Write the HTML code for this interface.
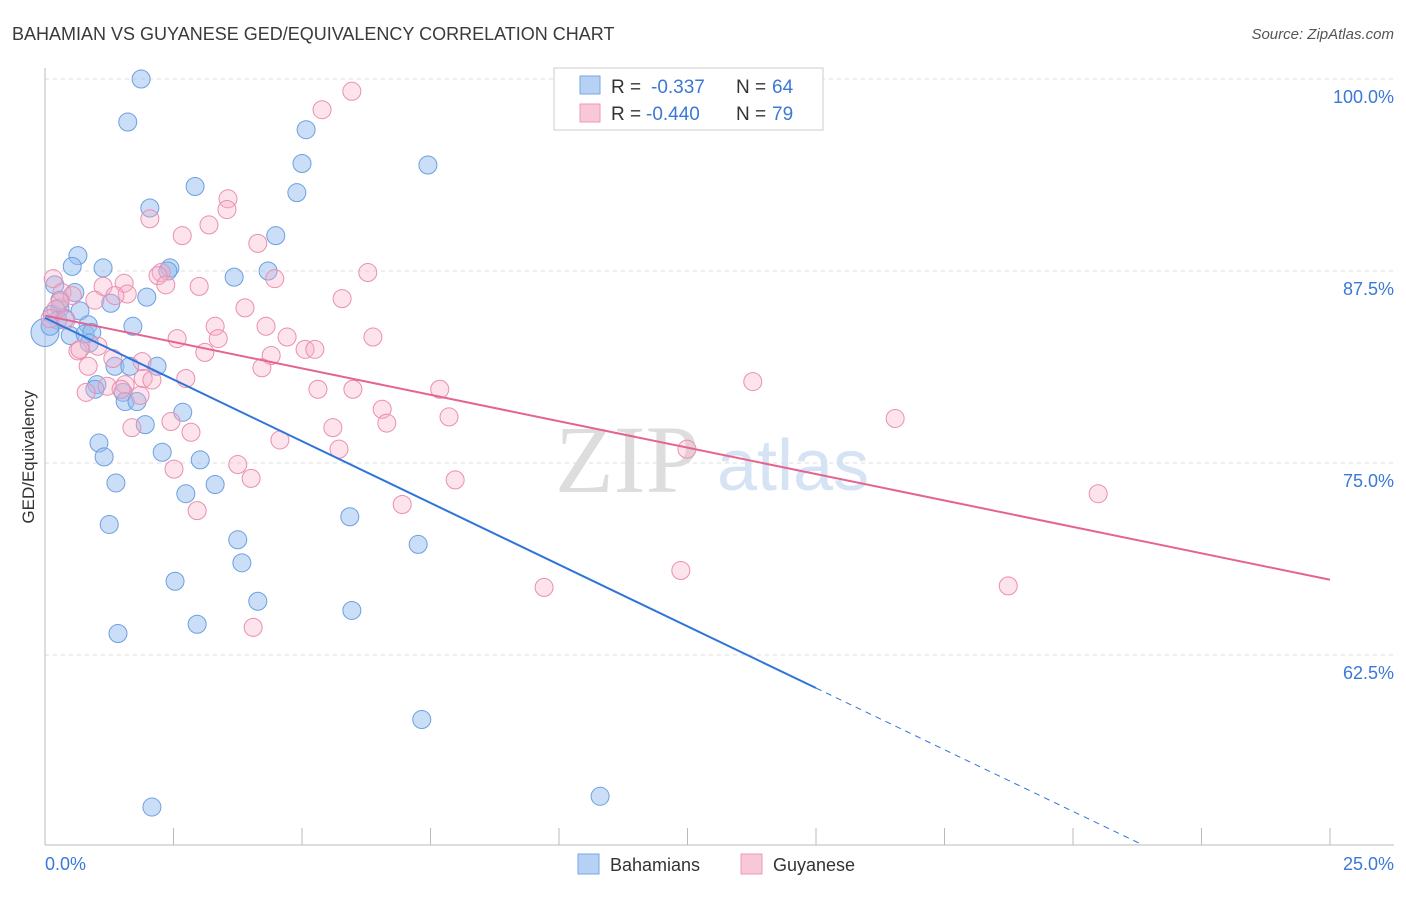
<!DOCTYPE html>
<html><head><meta charset="utf-8"><style>
body{margin:0;background:#fff;font-family:"Liberation Sans",sans-serif;}
</style></head><body>
<svg id="c" width="1406" height="892" xmlns="http://www.w3.org/2000/svg">
<text x="12" y="40" font-size="18" fill="#3a3a3a">BAHAMIAN VS GUYANESE GED/EQUIVALENCY CORRELATION CHART</text>
<text x="1394" y="39" font-size="15" fill="#555" font-style="italic" text-anchor="end">Source: ZipAtlas.com</text>
<text x="555" y="492" font-size="96" fill="#ddd" font-family="Liberation Serif,serif">ZIP</text>
<text x="717" y="490" font-size="72" fill="#d6e3f5">atlas</text>
<text transform="translate(34,457) rotate(-90)" font-size="17" fill="#333" text-anchor="middle">GED/Equivalency</text>
<g id="grid"></g><g id="pts"></g><g id="lines"></g>
<g>
<rect x="554" y="68" width="269" height="62" fill="#fff" stroke="#ccc"/>
<rect x="580" y="76" width="20" height="18" fill="#b7d1f4" stroke="#7aa6e6"/>
<rect x="580" y="104" width="20" height="18" fill="#f9c8d8" stroke="#ec9ab8"/>
<text x="611" y="93" font-size="19" fill="#333">R =</text>
<text x="651" y="93" font-size="19" fill="#3b78d8">-0.337</text>
<text x="736" y="93" font-size="19" fill="#333">N =</text>
<text x="772" y="93" font-size="19" fill="#3b78d8">64</text>
<text x="611" y="120" font-size="19" fill="#333">R =</text>
<text x="646" y="120" font-size="19" fill="#3b78d8">-0.440</text>
<text x="736" y="120" font-size="19" fill="#333">N =</text>
<text x="772" y="120" font-size="19" fill="#3b78d8">79</text>
</g>
<g>
<rect x="578" y="854" width="21" height="20" fill="#b7d1f4" stroke="#7aa6e6"/>
<text x="610" y="871" font-size="18" fill="#333">Bahamians</text>
<rect x="741" y="854" width="21" height="20" fill="#f9c8d8" stroke="#ec9ab8"/>
<text x="773" y="871" font-size="18" fill="#333">Guyanese</text>
</g>
<text x="45" y="870" font-size="18" fill="#3b78d8">0.0%</text>
<text x="1394" y="870" font-size="18" fill="#3b78d8" text-anchor="end">25.0%</text>
</svg>
<script>
const yTicks=[100,87.5,75,62.5];
const yTickLabels=["100.0%","87.5%","75.0%","62.5%"];
const xTicks=[0,2.5,5,7.5,10,12.5,15,17.5,20,22.5,25];
const blueX=[1.87,1.61,5.08,7.45,5.00,2.92,4.90,2.04,4.49,0.64,0.53,1.13,2.43,2.39,3.68,4.34,0.19,0.58,1.98,1.28,0.68,0.29,0.14,0.25,0.84,1.71,0.49,0.78,0.91,0.86,0,1.36,1.65,2.18,1.01,0.97,1.52,1.56,1.79,2.68,1.95,1.05,1.15,2.28,3.02,1.38,3.31,2.74,1.25,5.93,3.75,7.26,3.83,2.53,4.14,5.97,2.96,1.42,7.33,2.08,10.80,0.29,0.39,0.10];
const blueY=[100.0,97.2,96.7,94.4,94.5,93.0,92.6,91.6,89.8,88.5,87.8,87.7,87.7,87.5,87.1,87.5,86.6,86.1,85.8,85.4,84.9,85.1,84.7,84.3,84.0,83.9,83.3,83.4,83.5,82.8,83.5,81.3,81.3,81.3,80.1,79.8,79.6,79.0,79.0,78.3,77.5,76.3,75.4,75.7,75.2,73.7,73.6,73.0,71.0,71.5,70.0,69.7,68.5,67.3,66.0,65.4,64.5,63.9,58.3,52.6,53.3,85.6,84.4,83.9];
const pinkX=[5.97,5.39,3.56,3.54,2.04,3.19,2.67,4.14,6.28,2.26,2.20,4.47,0.16,1.54,2.35,3.00,1.13,1.60,1.36,0.33,0.53,5.78,3.89,0.29,0.21,0.10,4.30,3.31,6.38,4.71,2.57,3.37,1.03,5.06,5.25,0.64,3.11,4.40,1.32,1.89,0.84,4.22,1.91,2.08,2.74,1.56,1.21,0.80,5.31,5.99,7.68,1.48,6.56,7.86,6.65,2.45,16.54,13.77,1.69,5.60,2.84,4.57,5.72,12.49,2.51,3.75,4.01,7.98,20.49,6.95,2.96,9.71,12.37,18.74,4.05,0.68,1.85,0.97,0.41];
const pinkY=[99.2,98.0,92.2,91.5,90.9,90.5,89.8,89.3,87.4,87.4,87.2,87.0,87.0,86.7,86.6,86.5,86.5,86.0,85.9,86.1,85.9,85.7,85.1,85.5,85.0,84.4,83.9,83.9,83.2,83.2,83.1,83.1,82.6,82.4,82.4,82.3,82.2,82.0,81.8,81.6,81.3,81.2,80.5,80.4,80.5,80.1,80.0,79.6,79.8,79.8,79.8,79.8,78.5,78.0,77.6,77.7,77.9,80.3,77.3,77.3,77.0,76.5,75.9,75.9,74.6,74.9,74.0,73.9,73.0,72.3,71.9,66.9,68.0,67.0,64.3,82.4,79.4,85.6,84.3];
const blueLine=[84.45,60.35];const blueLineX=[0,15];
const pinkLine=[84.6,67.4];const pinkLineX=[0,25];
const X0=45,X1=1330,Y0=79,Y1=845,YMAX=100,YMIN=50.13;
const sx=v=>X0+(v/25)*(X1-X0);
const sy=v=>Y0+(YMAX-v)/(YMAX-YMIN)*(Y1-Y0);
const NS="http://www.w3.org/2000/svg";
function mk(t,a,p){const e=document.createElementNS(NS,t);for(const k in a)e.setAttribute(k,a[k]);p.appendChild(e);return e;}
const grid=document.getElementById('grid');
yTicks.forEach((t,i)=>{
 const l=mk('line',{x1:X0,x2:1394,y1:sy(t),y2:sy(t),stroke:'#ddd','stroke-dasharray':'4,4'},grid);
 
 
 const tx=mk('text',{x:1394,y:sy(t)+24,'font-size':18,fill:'#3b78d8','text-anchor':'end'},grid);
 tx.textContent=yTickLabels[i];
 
 
});
const ax=mk('line',{x1:X0,x2:X0,y1:68,y2:Y1,stroke:'#bbb'},grid);


const bx=mk('line',{x1:X0,x2:1394,y1:Y1,y2:Y1,stroke:'#bbb'},grid);


xTicks.forEach(t=>{
 const l=mk('line',{x1:sx(t),x2:sx(t),y1:828,y2:Y1,stroke:'#bbb'},grid);
 
 
});
const pts=document.getElementById('pts');
blueX.forEach((x,i)=>{
 const c=mk('circle',{cx:sx(x),cy:sy(blueY[i]),r:(x===0?14:9),fill:'rgba(150,190,240,0.5)',stroke:'#6d9fe2','stroke-width':1},pts);
 
 
});
pinkX.forEach((x,i)=>{
 const c=mk('circle',{cx:sx(x),cy:sy(pinkY[i]),r:9,fill:'rgba(246,175,200,0.35)',stroke:'#ea8fb0','stroke-width':1},pts);
 
 
});
const lines=document.getElementById('lines');
const slope=(blueLine[1]-blueLine[0])/(blueLineX[1]-blueLineX[0]);
const xEnd=blueLineX[1]+(YMIN-blueLine[1])/slope;
const bl=mk('line',{x1:sx(blueLineX[0]),y1:sy(blueLine[0]),x2:sx(blueLineX[1]),y2:sy(blueLine[1]),stroke:'#2f74d8','stroke-width':2},lines);


const bd=mk('line',{x1:sx(blueLineX[1]),y1:sy(blueLine[1]),x2:sx(xEnd),y2:sy(YMIN),stroke:'#2f74d8','stroke-width':1,'stroke-dasharray':'6,5'},lines);


const pl=mk('line',{x1:sx(pinkLineX[0]),y1:sy(pinkLine[0]),x2:sx(pinkLineX[1]),y2:sy(pinkLine[1]),stroke:'#e5648f','stroke-width':2},lines);


</script>
</body></html>
